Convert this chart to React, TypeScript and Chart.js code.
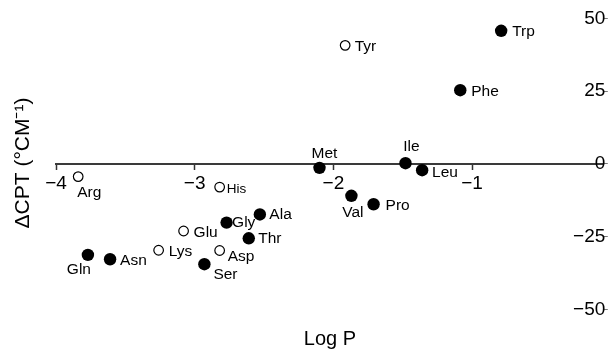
import React, { useEffect, useRef } from "react";
import { Chart, registerables } from "chart.js";

Chart.register(...registerables);

// ---- data ----
const filledNames = ["Trp", "Phe", "Met", "Ile", "Leu", "Val", "Pro", "Ala", "Gly", "Thr", "Gln", "Asn", "Ser"];
const filledLogP = [-0.79, -1.085, -2.1, -1.48, -1.36, -1.87, -1.71, -2.53, -2.77, -2.61, -3.77, -3.61, -2.93];
const filledDCPT = [45.7, 25.3, -1.4, 0.2, -2.2, -11.0, -13.9, -17.4, -20.2, -25.6, -31.3, -32.8, -34.5];

const openNames = ["Tyr", "Arg", "His", "Glu", "Lys", "Asp"];
const openLogP = [-1.915, -3.84, -2.82, -3.08, -3.26, -2.82];
const openDCPT = [40.7, -4.4, -8.0, -23.1, -29.7, -29.8];

const xTicks = [-4, -3, -2, -1];
const yTicks = [50, 25, 0, -25, -50];

const xTitle = "Log P";
const yTitle = "ΔCPT (°CM⁻¹)";

// ---- styles (label placement relative to marker, in px) ----
const FONT = "'Liberation Sans', Arial, Helvetica, sans-serif";
const labelPlacement: Record<string, { dx: number; dy: number; align: CanvasTextAlign; size?: number }> = {
  Trp: { dx: 11, dy: 1, align: "left" },
  Phe: { dx: 11, dy: 2, align: "left" },
  Met: { dx: 5, dy: -14, align: "center" },
  Ile: { dx: 6, dy: -16, align: "center" },
  Leu: { dx: 10, dy: 2.5, align: "left" },
  Val: { dx: 1.5, dy: 17, align: "center" },
  Pro: { dx: 12, dy: 1.5, align: "left" },
  Ala: { dx: 9.5, dy: 0.5, align: "left" },
  Gly: { dx: 5.5, dy: 0, align: "left" },
  Thr: { dx: 9.5, dy: 0.5, align: "left" },
  Gln: { dx: -9, dy: 15, align: "center" },
  Asn: { dx: 10, dy: 1.5, align: "left" },
  Ser: { dx: 9, dy: 11, align: "left" },
  Tyr: { dx: 9.5, dy: 1, align: "left" },
  Arg: { dx: -1, dy: 16.5, align: "left" },
  His: { dx: 7, dy: 2.5, align: "left", size: 13.5 },
  Glu: { dx: 10, dy: 1.5, align: "left" },
  Lys: { dx: 10, dy: 1.5, align: "left" },
  Asp: { dx: 8, dy: 6, align: "left" },
};

const fmt = (v: number | string) => String(v).replace("-", "\u2212");

const pointLabels = {
  id: "pointLabels",
  afterDatasetsDraw(chart: any) {
    const ctx = chart.ctx;
    const groups = [filledNames, openNames];
    chart.data.datasets.forEach((_ds: any, di: number) => {
      const meta = chart.getDatasetMeta(di);
      const names = groups[di];
      meta.data.forEach((el: any, i: number) => {
        const name = names[i];
        const p = labelPlacement[name] || { dx: 10, dy: 0, align: "left" as CanvasTextAlign };
        ctx.save();
        ctx.font = `${p.size ?? 15.5}px ${FONT}`;
        ctx.fillStyle = "#000";
        ctx.textAlign = p.align;
        ctx.textBaseline = "middle";
        ctx.fillText(name, el.x + p.dx, el.y + p.dy);
        ctx.restore();
      });
    });
  },
};

const Y_MIN = -50.24;
const Y_MAX = 50.79;
const X_MIN = -4;
const X_MAX = -0.05;

export default function App() {
  const ref = useRef<HTMLCanvasElement | null>(null);

  useEffect(() => {
    if (!ref.current) return;
    const chart = new Chart(ref.current, {
      type: "scatter",
      data: {
        datasets: [
          {
            data: filledLogP.map((x, i) => ({ x, y: filledDCPT[i] })),
            backgroundColor: "#000",
            borderColor: "#000",
            borderWidth: 0,
            pointRadius: 6.2,
            xAxisID: "x",
            yAxisID: "y",
          },
          {
            data: openLogP.map((x, i) => ({ x, y: openDCPT[i] })),
            backgroundColor: "#fff",
            borderColor: "#000",
            borderWidth: 1.2,
            pointRadius: 4.8,
            xAxisID: "x",
            yAxisID: "y",
          },
        ],
      },
      options: {
        animation: false,
        responsive: false,
        layout: { padding: { top: 16, right: -7, bottom: 0, left: 0 } },
        plugins: {
          legend: { display: false },
          tooltip: { enabled: false },
        },
        scales: {
          x: {
            type: "linear",
            axis: "x",
            position: { y: 0 },
            min: X_MIN,
            max: X_MAX,
            afterBuildTicks: (s: any) => {
              s.ticks = xTicks.map((v) => ({ value: v }));
            },
            ticks: {
              callback: (v: any) => fmt(v),
              font: { family: FONT, size: 19 },
              color: "#000",
              padding: 4,
              maxRotation: 0,
              autoSkip: false,
            },
            grid: {
              display: true,
              drawOnChartArea: false,
              drawTicks: true,
              tickLength: 5,
              tickColor: "#333",
              tickWidth: 1.5,
            },
            border: { display: true, color: "#3a3a3a", width: 2 },
          },
          xTitle: {
            type: "linear",
            axis: "x",
            position: "bottom",
            min: X_MIN,
            max: X_MAX,
            ticks: { display: false },
            grid: { display: false, drawTicks: false },
            border: { display: false },
            title: {
              display: true,
              text: xTitle,
              color: "#000",
              font: { family: FONT, size: 20, lineHeight: 1 },
              padding: { top: 19, bottom: 0 },
            },
          },
          y: {
            type: "linear",
            position: "right",
            min: Y_MIN,
            max: Y_MAX,
            afterBuildTicks: (s: any) => {
              s.ticks = yTicks.map((v) => ({ value: v }));
            },
            ticks: {
              mirror: true,
              padding: 1.5,
              callback: (v: any) => fmt(v),
              font: { family: FONT, size: 19 },
              color: "#000",
            },
            grid: {
              display: true,
              drawOnChartArea: false,
              drawTicks: true,
              tickLength: 4,
              tickColor: "#777",
            },
            border: { display: false },
          },
          yTitle: {
            type: "linear",
            axis: "y",
            position: "left",
            min: Y_MIN,
            max: Y_MAX,
            ticks: { display: false },
            grid: { display: false, drawTicks: false },
            border: { display: false },
            title: {
              display: true,
              text: yTitle,
              color: "#000",
              font: { family: FONT, size: 21, lineHeight: 1.2 },
              padding: { top: 10.4, bottom: 20.4 },
            },
          },
        },
      } as any,
      plugins: [pointLabels],
    });
    return () => chart.destroy();
  }, []);

  return (
    <div style={{ position: "fixed", left: 0, top: 0, width: 610, height: 349, background: "#fff" }}>
      <canvas ref={ref} width={610} height={349} style={{ display: "block" }} />
    </div>
  );
}
